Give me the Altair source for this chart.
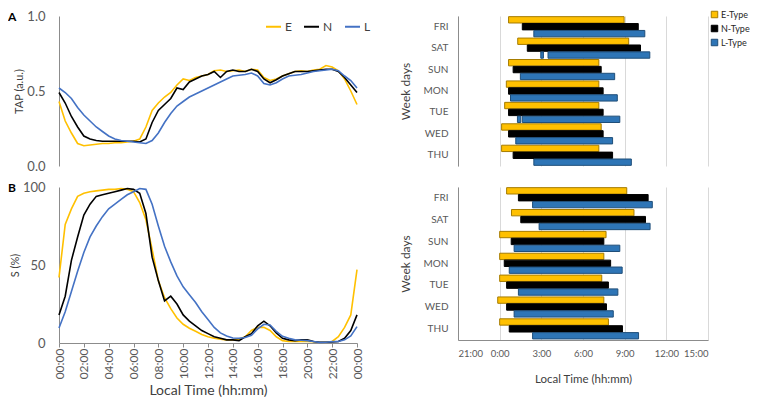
import altair as alt
import pandas as pd

FONT = "Lato"
GREY = "#8c8c8c"
LABEL = "#595959"

# ---------------- line panels (A / B left) ----------------
hours = [0, 0.5, 1, 1.5, 2, 2.5, 3, 3.5, 4, 4.5, 5, 5.5, 6, 6.5, 7, 7.5, 8, 8.5,
         9, 9.5, 10, 10.5, 11, 11.5, 12, 12.5, 13, 13.5, 14, 14.5, 15, 15.5, 16,
         16.5, 17, 17.5, 18, 18.5, 19, 19.5, 20, 20.5, 21, 21.5, 22, 22.5, 23,
         23.5, 24]

tap_E = [0.43, 0.30, 0.22, 0.15, 0.135, 0.14, 0.145, 0.15, 0.15, 0.155, 0.155, 0.16,
         0.165, 0.18, 0.26, 0.37, 0.42, 0.46, 0.49, 0.54, 0.58, 0.57, 0.59, 0.60,
         0.61, 0.635, 0.64, 0.63, 0.635, 0.64, 0.63, 0.645, 0.64, 0.59, 0.57, 0.58,
         0.60, 0.615, 0.63, 0.635, 0.63, 0.64, 0.645, 0.67, 0.66, 0.635, 0.58, 0.50, 0.41]
tap_N = [0.49, 0.42, 0.33, 0.26, 0.20, 0.18, 0.17, 0.165, 0.165, 0.165, 0.165, 0.165,
         0.165, 0.16, 0.18, 0.29, 0.37, 0.41, 0.45, 0.52, 0.51, 0.56, 0.58, 0.60,
         0.61, 0.63, 0.59, 0.63, 0.64, 0.63, 0.63, 0.645, 0.63, 0.58, 0.555, 0.575,
         0.60, 0.615, 0.63, 0.63, 0.63, 0.635, 0.64, 0.645, 0.645, 0.63, 0.59, 0.54, 0.49]
tap_L = [0.52, 0.49, 0.45, 0.39, 0.34, 0.30, 0.26, 0.23, 0.20, 0.18, 0.17, 0.165,
         0.16, 0.155, 0.15, 0.17, 0.22, 0.29, 0.35, 0.40, 0.43, 0.46, 0.48, 0.50,
         0.52, 0.54, 0.56, 0.58, 0.60, 0.605, 0.61, 0.62, 0.60, 0.55, 0.54, 0.555,
         0.58, 0.60, 0.605, 0.61, 0.62, 0.63, 0.635, 0.64, 0.645, 0.635, 0.60, 0.57, 0.52]

s_E = [42, 76, 86, 94, 96, 97, 97.5, 98, 98.5, 98.5, 99, 98.5, 97, 90, 79, 60, 40,
       29, 22, 16, 12, 9.5, 7.5, 5.5, 4, 3, 2.5, 2, 2, 2.5, 4, 8, 10, 10, 8, 4, 1.5,
       1, 1, 1, 1, 0.8, 0.5, 0.5, 1, 4, 10, 18, 47]
s_N = [18, 30, 53, 68, 82, 89, 94, 95, 96, 97, 98, 99, 98.5, 96, 83, 55, 40, 27,
       30, 25, 18, 14, 11, 8, 6, 4, 3, 2, 2, 1.5, 4, 6, 11, 14, 11, 6.5, 3, 2, 1.5,
       2, 2, 1, 0.5, 0.5, 0.6, 1, 3, 8, 18]
s_L = [9.6, 20, 33, 46, 58, 68, 75, 81, 86, 89, 92, 95, 97, 99, 98.5, 89, 75, 62,
       52, 43, 36, 31, 26, 20, 15, 10, 6.5, 4.5, 3.2, 3, 3.5, 5, 9, 12, 11.5, 7.5,
       4.3, 3, 2, 1.8, 1.5, 1, 0.4, 0.5, 0.9, 1, 2, 4.5, 10.5]

line_types = ["E", "N", "L"]
line_colors = ["#FFC000", "#000000", "#4472C4"]
hour_ticks = [0, 2, 4, 6, 8, 10, 12, 14, 16, 18, 20, 22, 24]

LEFT_W = 298


def long_df(series):
    rows = []
    for name, vals in zip(line_types, series):
        for h, v in zip(hours, vals):
            rows.append({"h": h, "v": v, "type": name})
    return pd.DataFrame(rows)


def letter_layer(letter):
    return alt.Chart(pd.DataFrame({"t": [letter]})).mark_text(
        align="left", baseline="top", fontSize=12, fontWeight="bold", font=FONT,
        color="black"
    ).encode(x=alt.value(-51), y=alt.value(-4), text="t:N")


def line_panel(df, ytitle, ydomain, yvalues, yfmt, letter, height, show_x, legend):
    if show_x:
        xaxis = alt.Axis(values=hour_ticks, labelAngle=270,
                         labelExpr="(datum.value % 24 < 10 ? '0' : '') + (datum.value % 24) + ':00'",
                         tickSize=4, tickColor=GREY, domainColor=GREY, labelPadding=1,
                         labelFontSize=12, title="Local Time (hh:mm)", titleFontSize=14,
                         titlePadding=5, grid=False)
    else:
        xaxis = None
    lines = alt.Chart(df).mark_line(strokeWidth=1.6).encode(
        x=alt.X("h:Q", scale=alt.Scale(domain=[0, 24], nice=False, zero=False), axis=xaxis),
        y=alt.Y("v:Q", scale=alt.Scale(domain=ydomain, nice=False),
                axis=alt.Axis(values=yvalues, format=yfmt, title=ytitle, grid=False,
                              ticks=False, domainColor=GREY, labelPadding=14,
                              labelFontSize=13, titleFontSize=11, titlePadding=2)),
        color=alt.Color("type:N", scale=alt.Scale(domain=line_types, range=line_colors),
                        legend=legend),
    )
    return alt.layer(lines, letter_layer(letter)).properties(width=LEFT_W, height=height)


tap_df = long_df([tap_E, tap_N, tap_L])
s_df = long_df([s_E, s_N, s_L])

line_legend = alt.Legend(orient="none", legendX=206, legendY=2, direction="horizontal",
                         title=None, symbolType="stroke", symbolSize=225,
                         symbolStrokeWidth=2, labelFontSize=12, columnPadding=8,
                         labelOffset=3, padding=0, labelColor="#404040")

a_left = line_panel(tap_df, "TAP (a.u.)", [0, 1], [0, 0.5, 1], ".1f", "A", 150, False, line_legend)
b_left = line_panel(s_df, "S (%)", [0, 100], [0, 50, 100], "d", "B", 156, True, None)

# ---------------- bar panels (A / B right) ----------------
days = ["FRI", "SAT", "SUN", "MON", "TUE", "WED", "THU"]
bar_types = ["E-Type", "N-Type", "L-Type"]
bar_fills = ["#FFC000", "#000000", "#2E75B6"]
bar_strokes = ["#A67C00", "#000000", "#1F4E79"]

# top panel (A), hours relative to midnight
a_E_start = [0.64, 1.30, 0.64, 0.48, 0.36, 0.14, 0.14]
a_E_end = [8.96, 9.29, 7.14, 7.14, 7.14, 7.31, 7.14]
a_N_start = [1.63, 1.99, 0.97, 0.64, 0.64, 0.64, 0.97]
a_N_end = [9.98, 10.14, 7.31, 7.45, 7.45, 7.45, 8.13]
a_L_start = [2.46, 3.48, 1.49, 0.78, 1.63, 1.16, 2.46]
a_L_end = [10.45, 10.81, 8.28, 8.47, 8.65, 8.13, 9.48]
a_extra_day = ["SAT", "TUE"]
a_extra_type = ["L-Type", "L-Type"]
a_extra_start = [2.96, 1.28]
a_extra_end = [3.15, 1.52]

# bottom panel (B)
b_E_start = [0.50, 0.85, 0.0, 0.0, 0.0, -0.14, 0.0]
b_E_end = [9.15, 9.67, 7.66, 7.50, 7.35, 7.50, 7.83]
b_N_start = [1.35, 1.52, 0.83, 0.33, 0.50, 0.50, 0.69]
b_N_end = [10.69, 10.50, 7.50, 7.99, 7.83, 7.69, 8.84]
b_L_start = [2.37, 2.84, 1.04, 0.69, 1.35, 1.04, 2.37]
b_L_end = [10.99, 10.83, 8.65, 8.82, 8.51, 8.18, 10.00]

time_ticks = [-3, 0, 3, 6, 9, 12, 15]
RIGHT_W = 250


def bar_df(starts, ends, extra=None):
    rows = []
    for t, st, en in zip(bar_types, starts, ends):
        for d, s0, e0 in zip(days, st, en):
            rows.append({"day": d, "type": t, "start": s0, "end": e0})
    if extra:
        for d, t, s0, e0 in zip(*extra):
            rows.append({"day": d, "type": t, "start": s0, "end": e0})
    return pd.DataFrame(rows)


def bar_panel(df, height, show_x, legend):
    if show_x:
        xaxis = alt.Axis(values=time_ticks, ticks=False, domainColor=GREY, grid=True,
                         gridColor="#d9d9d9",
                         labelExpr="(datum.value < 0 ? datum.value + 24 : datum.value) + ':00'",
                         labelFontSize=9.5, labelPadding=8, title="Local Time (hh:mm)",
                         titleFontSize=11.5, titlePadding=16)
    else:
        xaxis = alt.Axis(values=time_ticks, labels=False, ticks=False, domain=False,
                         grid=True, gridColor="#d9d9d9", title=None)
    return alt.Chart(df).mark_bar(strokeWidth=1).encode(
        y=alt.Y("day:N", sort=days, scale=alt.Scale(paddingInner=0.06, paddingOuter=0.03),
                axis=alt.Axis(title="Week days", ticks=False, domainColor=GREY,
                              labelPadding=10, labelFontSize=10, titleFontSize=12,
                              titlePadding=11)),
        yOffset=alt.YOffset("type:N", scale=alt.Scale(domain=bar_types, paddingInner=0.08)),
        x=alt.X("start:Q", scale=alt.Scale(domain=[-3, 15], nice=False, zero=False), axis=xaxis),
        x2="end:Q",
        color=alt.Color("type:N", scale=alt.Scale(domain=bar_types, range=bar_fills), legend=legend),
        stroke=alt.Stroke("type:N", scale=alt.Scale(domain=bar_types, range=bar_strokes), legend=legend),
    ).properties(width=RIGHT_W, height=height)


bar_legend = alt.Legend(orient="none", legendX=252, legendY=-6, title=None,
                        symbolType="square", symbolSize=42, symbolStrokeWidth=1,
                        labelFontSize=9, rowPadding=3, labelOffset=2, padding=0,
                        labelColor="#262626")

a_right = bar_panel(bar_df([a_E_start, a_N_start, a_L_start], [a_E_end, a_N_end, a_L_end],
                           (a_extra_day, a_extra_type, a_extra_start, a_extra_end)),
                    150, False, bar_legend)
b_right = bar_panel(bar_df([b_E_start, b_N_start, b_L_start], [b_E_end, b_N_end, b_L_end]),
                    153, True, None)

chart = alt.concat(a_left, a_right, b_left, b_right, columns=2, align="each",
                   spacing={"row": 8, "column": 28}).resolve_scale(
    color="independent", stroke="independent"
).resolve_legend(
    color="independent", stroke="independent"
).properties(
    padding={"left": 0, "top": 2, "right": 0, "bottom": 0}
).configure_view(stroke=None).configure_axis(
    labelFont=FONT, titleFont=FONT, labelColor=LABEL, titleColor="#404040",
    titleFontWeight="normal"
).configure_legend(labelFont=FONT)

chart.save("out.html", embed_options={"renderer": "svg", "actions": False})
